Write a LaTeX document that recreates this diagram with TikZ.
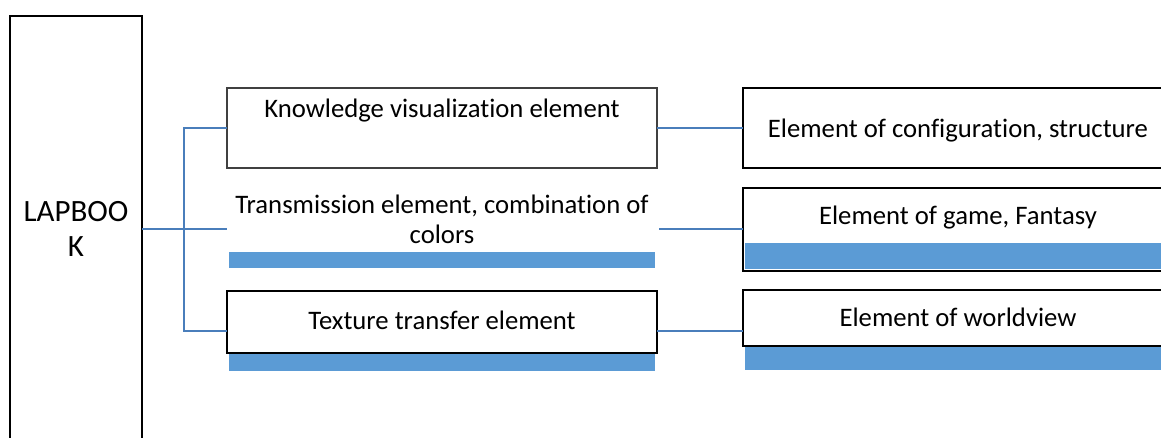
\documentclass[tikz,border=0pt]{standalone}
\usepackage{fontspec}
\setmainfont[Ligatures=NoCommon]{Carlito}
\definecolor{connblue}{HTML}{4A7EBB}
\definecolor{barblue}{HTML}{5B9BD5}
\definecolor{darkframe}{HTML}{404040}
\begin{document}
\begin{tikzpicture}[x=1pt,y=-1pt,
  conn/.style={draw=connblue, line width=2pt},
  slot/.style={rectangle, inner sep=0pt, outer sep=0pt, anchor=north west},
  boxline/.style={draw=black, line width=1.5pt},
  barfill/.style={fill=barblue},
  lbl/.style={anchor=base, inner sep=0pt, font=\fontsize{26.7}{30}\selectfont}]
\useasboundingbox (0,0) rectangle (1161,437);
% LAPBOOK
\node[slot, draw=black, line width=1.5pt, minimum width=132pt, minimum height=426pt,
      align=center, font=\fontsize{31}{35}\selectfont] (lap) at (10,16) {LAPBOO\\K};
% left column
\node[slot, draw=darkframe, line width=2.2pt, minimum width=430pt, minimum height=80pt] (k) at (227,88) {};
\node[slot, minimum width=430pt, minimum height=82pt] (tr) at (227,188) {};
\fill[barblue] (229,252) rectangle (655,268);
\node[slot, minimum width=430pt, minimum height=80pt] (tx) at (227,291) {};
\fill[barblue] (229,354) rectangle (655,371);
\draw[boxline] (227,291) rectangle (657,353);
% right column
\node[slot, draw=black, line width=1.5pt, minimum width=430pt, minimum height=80pt] (r1) at (743,88) {};
\node[slot, minimum width=430pt, minimum height=82pt] (r2) at (743,188) {};
\fill[barblue] (745,243) rectangle (1173,269);
\draw[boxline] (743,188) rectangle (1173,271);
\node[slot, minimum width=430pt, minimum height=80pt] (r3) at (743,291) {};
\fill[barblue] (745,346) rectangle (1173,370);
\draw[boxline] (743,290) rectangle (1173,346);
% texts
\node[lbl] (kt) at (442,117) {Knowledge visualization element};
\node[lbl, align=center] (trt) at (442,243) {Transmission element, combination of\\colors};
\node[lbl] (txt) at (442,329) {Texture transfer element};
\node[lbl] (r1t) at (958,137) {Element of configuration, structure};
\node[lbl] (r2t) at (958,224) {Element of game, Fantasy};
\node[lbl] (r3t) at (958,326) {Element of worldview};
% connectors
\coordinate (fork) at (184,229);
\draw[conn] (lap.east) -- (tr.west);
\draw[conn] (k.west) -| (fork) |- (tx.west);
\draw[conn] (k.east) -- (r1.west);
\draw[conn] ([xshift=2pt]tr.east) -- (r2.west);
\draw[conn] (tx.east) -- (r3.west);
\end{tikzpicture}
\end{document}
